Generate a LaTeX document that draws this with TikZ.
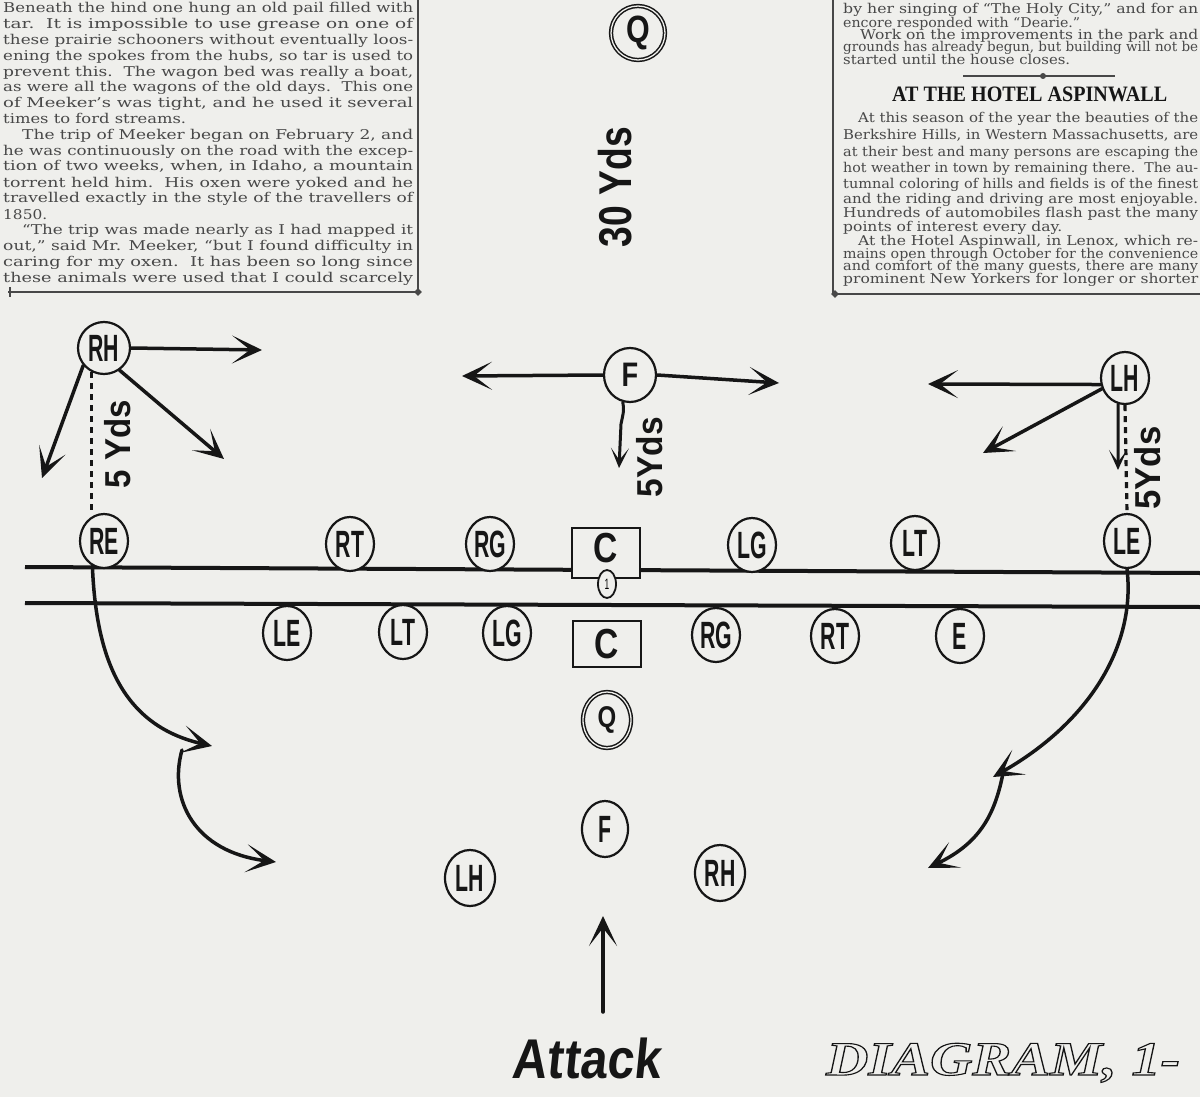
\documentclass[tikz,border=0pt]{standalone}
\usepackage{fontspec}
\usepackage{graphicx}
\usetikzlibrary{arrows.meta,shapes.geometric}
\setmainfont{DejaVu Serif}
\newfontfamily\newsfont{DejaVu Serif}
\newfontfamily\headfont{Liberation Serif}
\newfontfamily\plfont[FakeStretch=0.56]{Liberation Sans}
\newfontfamily\cfont[FakeStretch=0.8]{Liberation Sans}
\newfontfamily\lblfont[FakeStretch=0.9]{Liberation Sans}
\newfontfamily\attfont[FakeSlant=0.1,FakeStretch=0.85]{Liberation Sans}
\newfontfamily\diagfont{Liberation Serif}
\definecolor{paper}{RGB}{239,239,236}
\definecolor{ink}{RGB}{22,22,22}
\definecolor{newsink}{RGB}{72,72,72}
\newcommand\tln[5]{\node[txt] (#1) at (#2,#3) {\resizebox{#4pt}{\height}{#5}};}
\begin{document}
\begin{tikzpicture}[x=1pt,y=-1pt,
  txt/.style={anchor=base west, inner sep=0pt, text=newsink, font=\newsfont\fontsize{13.5}{15}\selectfont},
  pl/.style={ellipse, draw=ink, line width=2.2pt, fill=paper, minimum width=48pt, minimum height=54pt, inner sep=0pt, text=ink, font=\plfont\bfseries\fontsize{38}{38}\selectfont},
  qring/.style={pl, double=paper, double distance=1.3pt, line width=1.5pt},
  cbox/.style={rectangle, draw=ink, line width=2.2pt, fill=paper, minimum width=68pt, inner sep=0pt, text=ink, font=\cfont\bfseries\fontsize{42}{42}\selectfont},
  mv/.style={draw=ink, line width=3.5pt, line cap=round, -{Stealth[length=30pt,width=28pt,inset=18pt]}},
  mvs/.style={draw=ink, line width=3pt, line cap=round, -{Stealth[length=20pt,width=18pt,inset=12pt]}},
  dsh/.style={draw=ink, line width=3.2pt, dash pattern=on 6pt off 5pt},
  lbl/.style={rotate=90, inner sep=0pt, text=ink, font=\lblfont\bfseries\fontsize{36}{36}\selectfont},
  rule/.style={draw=newsink, line width=1.6pt}
]
\useasboundingbox (0,0) rectangle (1200,1097);
\fill[paper] (0,0) rectangle (1200,1097);
\begin{scope}
\clip (0,0) rectangle (1200,1097);

% ---------- left newspaper column ----------
\tln{a0}{3}{13}{410}{Beneath the hind one hung an old pail filled with}
\tln{a1}{3}{29}{410}{tar.\ \ It is impossible to use grease on one of}
\tln{a2}{3}{45}{410}{these prairie schooners without eventually loos-}
\tln{a3}{3}{61}{410}{ening the spokes from the hubs, so tar is used to}
\tln{a4}{3}{77}{410}{prevent this.\ \ The wagon bed was really a boat,}
\tln{a5}{3}{92}{410}{as were all the wagons of the old days.\ \ This one}
\tln{a6}{3}{108}{410}{of Meeker’s was tight, and he used it several}
\tln{a7}{3}{124}{183}{times to ford streams.}
\tln{a8}{22}{140}{391}{The trip of Meeker began on February 2, and}
\tln{a9}{3}{156}{410}{he was continuously on the road with the excep-}
\tln{a10}{3}{171}{410}{tion of two weeks, when, in Idaho, a mountain}
\tln{a11}{3}{187}{410}{torrent held him.\ \ His oxen were yoked and he}
\tln{a12}{3}{203}{410}{travelled exactly in the style of the travellers of}
\tln{a13}{3}{219}{44}{1850.}
\tln{a14}{22}{234}{391}{“The trip was made nearly as I had mapped it}
\tln{a15}{3}{250}{410}{out,” said Mr. Meeker, “but I found difficulty in}
\tln{a16}{3}{266}{410}{caring for my oxen.\ \ It has been so long since}
\tln{a17}{3}{282}{410}{these animals were used that I could scarcely}
\draw[rule] (418,0) -- (418,292);
\draw[rule] (8,292) -- (418,292);
\draw[rule] (10,287) -- (10,297);
\node[diamond, fill=newsink, inner sep=0pt, minimum size=8pt] (dmL) at (418,292) {};

% ---------- right newspaper column ----------
\tln{b0}{843}{14}{355}{by her singing of “The Holy City,” and for an}
\tln{b1}{843}{28}{237}{encore responded with “Dearie.”}
\tln{b2}{860}{40}{338}{Work on the improvements in the park and}
\tln{b3}{843}{52}{355}{grounds has already begun, but building will not be}
\tln{b4}{843}{65}{227}{started until the house closes.}
\draw[rule] (963,76) -- (1115,76);
\fill[newsink] (1043,76) circle (3);
\node[anchor=base west, inner sep=0pt, text=ink, font=\headfont\bfseries\fontsize{22}{22}\selectfont] (head) at (892,102) {\resizebox{275pt}{\height}{AT THE HOTEL ASPINWALL}};
\tln{b5}{858}{123}{340}{At this season of the year the beauties of the}
\tln{b6}{843}{140}{355}{Berkshire Hills, in Western Massachusetts, are}
\tln{b7}{843}{157}{355}{at their best and many persons are escaping the}
\tln{b8}{843}{173}{355}{hot weather in town by remaining there.\ \ The au-}
\tln{b9}{843}{189}{355}{tumnal coloring of hills and fields is of the finest}
\tln{b10}{843}{204}{355}{and the riding and driving are most enjoyable.}
\tln{b11}{843}{218}{355}{Hundreds of automobiles flash past the many}
\tln{b12}{843}{231}{219}{points of interest every day.}
\tln{b13}{858}{245}{340}{At the Hotel Aspinwall, in Lenox, which re-}
\tln{b14}{843}{258}{355}{mains open through October for the convenience}
\tln{b15}{843}{270}{355}{and comfort of the many guests, there are many}
\tln{b16}{843}{283}{355}{prominent New Yorkers for longer or shorter}
\draw[rule] (833,0) -- (833,294);
\draw[rule] (833,294) -- (1200,294);
\node[diamond, fill=newsink, inner sep=0pt, minimum size=8pt] (dmR) at (835,294) {};

% ---------- scrimmage lines ----------
\coordinate (l1a) at (25,567);
\coordinate (l1b) at (1200,573);
\coordinate (l2a) at (25,603);
\coordinate (l2b) at (1200,607);
\draw[ink, line width=4pt] (l1a) -- (l1b);
\draw[ink, line width=4pt] (l2a) -- (l2b);

% ---------- far side ----------
\node[qring, minimum width=54pt, minimum height=54pt, font=\cfont\bfseries\fontsize{38}{38}\selectfont] (qO) at (638,33) {Q};
\node[lbl, font=\lblfont\bfseries\fontsize{46}{46}\selectfont] (yd30) at (615,187) {\resizebox{120pt}{\height}{30 Yds}};

\node[pl, minimum width=52pt, minimum height=52pt] (rhO) at (104,348) {RH};
\node[pl, minimum width=52pt, minimum height=54pt, font=\cfont\bfseries\fontsize{34}{34}\selectfont] (fO) at (630,375) {F};
\node[pl, minimum width=48pt, minimum height=52pt] (lhO) at (1125,378) {LH};

\node[pl] (reO) at (104,541) {RE};
\node[pl] (rtO) at (350,544) {RT};
\node[pl] (rgO) at (490,544) {RG};
\node[cbox, minimum height=50pt, text depth=10pt] (cO) at (606,553) {C};
\node[ellipse, draw=ink, line width=1.8pt, fill=paper, minimum width=18pt, minimum height=28pt, inner sep=0pt, font=\plfont\fontsize{15}{15}\selectfont] (ball) at (607,584) {1};
\node[pl] (lgO) at (752,545) {LG};
\node[pl] (ltO) at (915,543) {LT};
\node[pl, minimum width=46pt] (leO) at (1127,541) {LE};

% ---------- attacking side ----------
\node[pl] (le2) at (287,633) {LE};
\node[pl] (lt2) at (403,632) {LT};
\node[pl] (lg2) at (507,633) {LG};
\node[cbox, minimum height=46pt] (c2) at (607,644) {C};
\node[pl] (rg2) at (716,635) {RG};
\node[pl] (rt2) at (835,636) {RT};
\node[pl] (e2) at (960,636) {E};
\node[qring, minimum width=48pt, minimum height=56pt, font=\cfont\bfseries\fontsize{30}{30}\selectfont] (q2) at (607,720) {Q};
\node[pl, minimum width=46pt, minimum height=56pt] (f2) at (605,829) {F};
\node[pl, minimum width=50pt, minimum height=56pt] (lh2) at (470,878) {LH};
\node[pl, minimum width=50pt, minimum height=56pt] (rh2) at (720,873) {RH};

% ---------- RH movements ----------
\coordinate (rhA) at (262,350);
\coordinate (rhB) at (224,459);
\coordinate (rhC) at (42,478);
\draw[mv] (rhO.east) -- (rhA);
\draw[mv] (rhO.305) -- (rhB);
\draw[mv] (rhO.220) -- (rhC);
\draw[dsh] (rhO.243) -- (rhO.243 |- reO.north);
\node[lbl] (yd5a) at (118,444) {\resizebox{88pt}{\height}{5 Yds}};

% ---------- F movements ----------
\coordinate (fA) at (462,376);
\coordinate (fB) at (779,383);
\coordinate (fC) at (619,468);
\draw[mv] (fO.west) -- (fA);
\draw[mv] (fO.east) -- (fB);
\draw[mvs] (fO.255) .. controls (624,410) .. (621,424) -- (fC);
\node[lbl] (yd5b) at (650,457) {\resizebox{80pt}{\height}{5Yds}};

% ---------- LH movements ----------
\coordinate (lhA) at (928,384);
\coordinate (lhB) at (983,453);
\coordinate (lhC) at (1118,470);
\draw[mv] (lhO.195) -- (lhA);
\draw[mv] (lhO.205) -- (lhB);
\draw[mvs] (lhO.255) -- (lhC);
\draw[dsh] (lhO.south) -- (leO.north);
\node[lbl] (yd5c) at (1148,468) {\resizebox{83pt}{\height}{5Yds}};

% ---------- end runs ----------
\coordinate (reA) at (212,746);
\coordinate (reB0) at (182,750);
\coordinate (reB) at (276,862);
\draw[mv] (reO.245) .. controls (96,655) and (120,725) .. (reA);
\draw[mv] (reB0) .. controls (168,800) and (195,852) .. (reB);
\coordinate (leA) at (993,777);
\coordinate (leB0) at (1004,768);
\coordinate (leB) at (928,868);
\draw[mv] (leO.south) .. controls (1136,645) and (1090,722) .. (leA);
\draw[mv] (leB0) .. controls (996,812) and (982,842) .. (leB);

% ---------- attack ----------
\coordinate (attTail) at (603,1012);
\coordinate (attTip) at (603,916);
\draw[mv] (attTail) -- (attTip);
\node[anchor=base, inner sep=0pt, text=ink, font=\attfont\bfseries\fontsize{56}{56}\selectfont] (attack) at (586,1078) {\resizebox{148pt}{\height}{Attack}};

\node[anchor=base west, inner sep=0pt, text=ink, font=\diagfont\bfseries\itshape\fontsize{48}{48}\selectfont] (diag) at (826,1075) {\resizebox{354pt}{\height}{\special{pdf:literal direct 1 Tr 1.1 w}DIAGRAM, 1-\special{pdf:literal direct 0 Tr}}};
\end{scope}
\end{tikzpicture}
\end{document}
